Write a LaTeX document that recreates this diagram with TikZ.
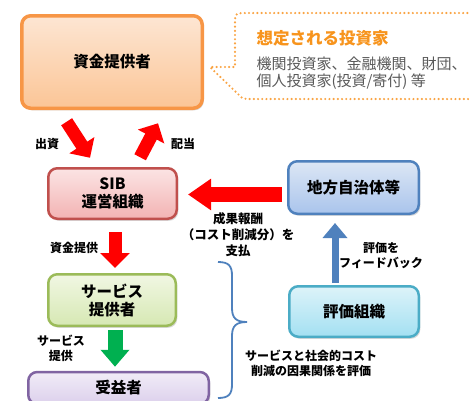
\documentclass[tikz,border=0pt]{standalone}
\usepackage{fontspec}
\setmainfont{Noto Sans CJK JP}
\usetikzlibrary{arrows.meta,positioning,calc,shadows}
\definecolor{fundline}{HTML}{F79646}
\definecolor{fundtop}{HTML}{FDE6D3}
\definecolor{fundbot}{HTML}{FBC596}
\definecolor{sibline}{HTML}{C0504D}
\definecolor{sibtop}{HTML}{FBE4E4}
\definecolor{sibbot}{HTML}{F3B3B3}
\definecolor{govline}{HTML}{4F81BD}
\definecolor{govtop}{HTML}{DDE7F5}
\definecolor{govbot}{HTML}{A9C4EC}
\definecolor{svcline}{HTML}{9BBB59}
\definecolor{svctop}{HTML}{F1F7E3}
\definecolor{svcbot}{HTML}{D6E8B3}
\definecolor{benline}{HTML}{8064A2}
\definecolor{bentop}{HTML}{F1ECF7}
\definecolor{benbot}{HTML}{DCD0EC}
\definecolor{evalline}{HTML}{4BACC6}
\definecolor{evaltop}{HTML}{DDF3F9}
\definecolor{evalbot}{HTML}{A3E0F2}
\definecolor{dotorange}{HTML}{F9A444}
\definecolor{titleorange}{HTML}{F7941D}
\definecolor{graytext}{HTML}{595959}
\definecolor{arrred}{HTML}{FF0000}
\definecolor{arrgreen}{HTML}{00B050}
\definecolor{arrblue}{HTML}{4F81BD}
\tikzset{box/.style={draw,rounded corners=9pt,line width=2.5pt,align=center,inner sep=0pt,
 font=\bfseries\fontsize{15.5}{18}\selectfont,drop shadow={opacity=.3,shadow xshift=1.5pt,shadow yshift=-2pt}},
 lbl/.style={font=\bfseries\fontsize{12}{15}\selectfont,align=center},
 redarr/.style={-{Triangle[width=29pt,length=15pt]},line width=13pt,draw=arrred},
 callout/.style={draw=dotorange,line width=2.4pt,line cap=round,dash pattern=on 0pt off 4.2pt}}

\begin{document}
\begin{tikzpicture}[x=1pt,y=-1pt]
\path[use as bounding box,clip] (0,0) rectangle (469,400);
\node[box,draw=fundline,top color=fundtop,bottom color=fundbot,line width=3.5pt,
 minimum width=180.5pt,minimum height=92.5pt] (fund) at (112,62) {資金提供者};
\node[box,draw=sibline,top color=sibtop,bottom color=sibbot,
 minimum width=128.5pt,minimum height=50.5pt] (sib) at (112.5,193.5) {SIB\\運営組織};
\node[box,draw=govline,top color=govtop,bottom color=govbot,
 minimum width=130.5pt,minimum height=52.5pt] (gov) at (353.5,187.5) {地方自治体等};
\node[box,draw=svcline,top color=svctop,bottom color=svcbot,
 minimum width=127.5pt,minimum height=51.5pt] (svc) at (112,300) {サービス\\提供者};
\node[box,draw=benline,top color=bentop,bottom color=benbot,
 minimum width=180.5pt,minimum height=32pt] (ben) at (118.5,388) {受益者};
\node[box,draw=evalline,top color=evaltop,bottom color=evalbot,
 minimum width=129.5pt,minimum height=50.5pt] (eval) at (354,311.5) {評価組織};

% investors callout
\draw[callout] (480,13) -- (247,13) .. controls (235,13) .. (235,25) -- (235,67) -- (210,67)
 -- (239,95) .. controls (243,99) .. (252,99) -- (480,99);
\node[anchor=west,font=\bfseries\fontsize{16.5}{20}\selectfont,text=titleorange] (title) at (253,38) {想定される投資家};
\node[anchor=west,align=left,font=\fontsize{15}{17}\selectfont,text=graytext] (investors) at (253,73.5)
 {機関投資家、金融機関、財団、\\個人投資家(投資/寄付) 等};

\draw[redarr,shorten <=14pt,shorten >=11pt] ($(fund.south west)+(39,0)$) -- ($(sib.north west)+(49,0)$);
\draw[redarr,shorten <=11pt,shorten >=15pt] ($(sib.north west)+(88,0)$) -- ($(fund.south west)+(145,0)$);
\draw[redarr,shorten <=12pt,shorten >=5pt] ($(sib.south)+(2.5,0)$) -- ($(svc.north)+(3,0)$);
\draw[-{Triangle[width=28pt,length=17pt]},line width=15pt,draw=arrgreen,shorten <=3pt,shorten >=4pt]
 ($(svc.south)+(3,0)$) -- ($(ben.north)+(-3.5,0)$);
\draw[redarr,-{Triangle[width=30pt,length=23pt]},line width=15pt,shorten <=5pt,shorten >=10pt]
 ($(gov.west)+(0,7)$) -- ($(sib.east)+(0,1)$);
\draw[-{Triangle[width=24pt,length=15pt]},line width=7pt,draw=arrblue,shorten <=2pt,shorten >=8pt]
 ($(eval.north)+(-19,0)$) -- ($(gov.south)+(-18.5,0)$);

\node[lbl] (invest) at (47,144) {出資};
\node[lbl] (dividend) at (183,144) {配当};
\node[lbl] (funding) at (74,248) {資金提供};
\node[lbl] (service) at (61,348.5) {サービス\\提供};
\node[lbl,font=\bfseries\fontsize{12.5}{16}\selectfont] (payment) at (238,235) {成果報酬\\（コスト削減分）を\\支払};
\node[lbl] (feedback) at (381,255.5) {評価を\\フィードバック};
\node[lbl] (causal) at (311,363.5) {サービスと社会的コスト\\削減の因果関係を評価};

% brace
\draw[draw=arrblue,line width=1.8pt] (218,262) .. controls (229,262) and (232,266) .. (232,276) -- (232,308)
 .. controls (232,318) and (236,322) .. (247,322) .. controls (236,322) and (232,326) .. (232,336)
 -- (232,384) .. controls (232,394) and (229,398) .. (218,398);
\end{tikzpicture}
\end{document}
